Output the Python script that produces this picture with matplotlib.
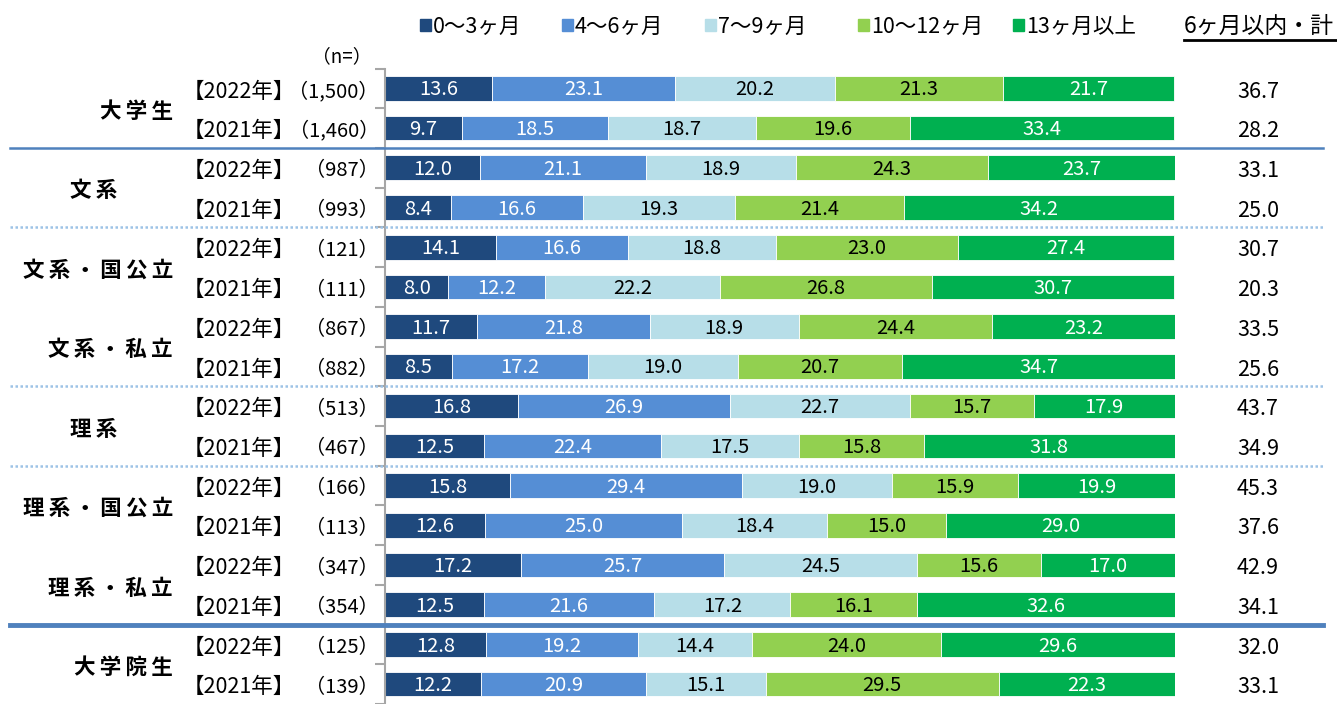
import matplotlib
matplotlib.use("Agg")
import matplotlib.pyplot as plt
import matplotlib.transforms as mtransforms
from matplotlib.lines import Line2D
from matplotlib.patches import Rectangle
import numpy as np

plt.rcParams['font.family'] = ['Noto Sans CJK JP', 'DejaVu Sans']

# data
series = ['0～3ヶ月', '4～6ヶ月', '7～9ヶ月', '10～12ヶ月', '13ヶ月以上']
colors = ['#1f497d', '#558ed5', '#b7dee8', '#92d050', '#00b050']
text_colors = ['white', 'white', 'black', 'black', 'white']

groups = ['大学生', '文系', '文系・国公立', '文系・私立', '理系', '理系・国公立', '理系・私立', '大学院生']
years = ['【2022年】', '【2021年】']
n_labels = ['（1,500）', '（1,460）', '（987）', '（993）', '（121）', '（111）', '（867）', '（882）',
            '（513）', '（467）', '（166）', '（113）', '（347）', '（354）', '（125）', '（139）']

values = np.array([
    [13.6, 23.1, 20.2, 21.3, 21.7],
    [9.7, 18.5, 18.7, 19.6, 33.4],
    [12.0, 21.1, 18.9, 24.3, 23.7],
    [8.4, 16.6, 19.3, 21.4, 34.2],
    [14.1, 16.6, 18.8, 23.0, 27.4],
    [8.0, 12.2, 22.2, 26.8, 30.7],
    [11.7, 21.8, 18.9, 24.4, 23.2],
    [8.5, 17.2, 19.0, 20.7, 34.7],
    [16.8, 26.9, 22.7, 15.7, 17.9],
    [12.5, 22.4, 17.5, 15.8, 31.8],
    [15.8, 29.4, 19.0, 15.9, 19.9],
    [12.6, 25.0, 18.4, 15.0, 29.0],
    [17.2, 25.7, 24.5, 15.6, 17.0],
    [12.5, 21.6, 17.2, 16.1, 32.6],
    [12.8, 19.2, 14.4, 24.0, 29.6],
    [12.2, 20.9, 15.1, 29.5, 22.3],
])
within6 = [36.7, 28.2, 33.1, 25.0, 30.7, 20.3, 33.5, 25.6,
           43.7, 34.9, 45.3, 37.6, 42.9, 34.1, 32.0, 33.1]

W, H = 1337, 704
fig = plt.figure(figsize=(W / 100, H / 100), dpi=100)

# axes placed in pixels: x 385..1175, row -0.5 at y=68.5px, 40px per row
top_px = 68.5
row_px = 40
ymax = (H - top_px) / row_px - 0.5
ax = fig.add_axes([385 / W, 0, 790 / W, 1 - top_px / H])
ax.set_xlim(0, 100)
ax.set_ylim(ymax, -0.5)

rows = np.arange(len(values))
left = np.zeros(len(values))
for j in range(len(series)):
    ax.barh(rows, values[:, j], left=left, height=0.62, color=colors[j],
            edgecolor='white', linewidth=0.6)
    for i in rows:
        ax.text(left[i] + values[i, j] / 2, i + 0.04, f'{values[i, j]:.1f}', ha='center', va='center',
                color=text_colors[j], fontsize=14.5)
    left += values[:, j]

for s in ['top', 'right', 'bottom']:
    ax.spines[s].set_visible(False)
ax.spines['left'].set_color('#a6a6a6')
ax.spines['left'].set_linewidth(1.5)
ax.set_xticks([])
ax.set_yticks(np.arange(-0.5, len(values), 1))
ax.tick_params(axis='y', length=7, width=1.5, color='#a6a6a6', labelleft=False)

tr = mtransforms.blended_transform_factory(fig.transFigure, ax.transData)

def fx(px):
    return px / W

# row labels
off = 0.08
for i in rows:
    fig.text(fx(239), i + off, years[i % 2], transform=tr, ha='center', va='center', fontsize=15.5)
    fig.text(fx(379), i + off, n_labels[i], transform=tr, ha='right', va='center', fontsize=14.5)
    fig.text(fx(1258), i + off, f'{within6[i]:.1f}', transform=tr, ha='center', va='center', fontsize=15.5)
fig.text(fx(342), -0.8, '（n=）', transform=tr, ha='center', va='center', fontsize=13.5)

# group labels
for k, g in enumerate(groups):
    label = '\u2009'.join(g)
    if g in ('文系', '理系'):
        fig.text(fx(94), 2 * k + 0.5 + off, label, transform=tr, ha='center', va='center',
                 fontsize=15.5, fontweight='bold')
    else:
        fig.text(fx(173), 2 * k + 0.5 + off, label, transform=tr, ha='right', va='center',
                 fontsize=15.5, fontweight='bold')

# separators
solid = {1.5: 1.8, 13.5: 3.5}
dotted = [3.5, 7.5, 9.5]
for y, lw in solid.items():
    fig.add_artist(Line2D([fx(10), fx(1323)], [y, y], transform=tr, color='#4f81bd', lw=lw))
for y in dotted:
    fig.add_artist(Line2D([fx(10), fx(1323)], [y, y], transform=tr, color='#9dc3e6', lw=1.8,
                          linestyle=(0, (1, 1))))

# legend
leg_y = -1.55
leg_x = [420, 562, 705, 858, 1013]
for j, name in enumerate(series):
    fig.add_artist(Rectangle((fx(leg_x[j]), 1 - 31 / H), 11 / W, 12 / H,
                             transform=fig.transFigure, color=colors[j]))
    fig.text(fx(leg_x[j] + 13), leg_y, name, transform=tr, ha='left', va='center', fontsize=15.5)
fig.text(fx(1184), leg_y, '6ヶ月以内・計', transform=tr, ha='left', va='center', fontsize=16.5)
fig.add_artist(Line2D([fx(1184), fx(1337)], [1 - 40 / H, 1 - 40 / H], transform=fig.transFigure,
                      color='black', lw=2))

fig.savefig('out.png', dpi=100)
